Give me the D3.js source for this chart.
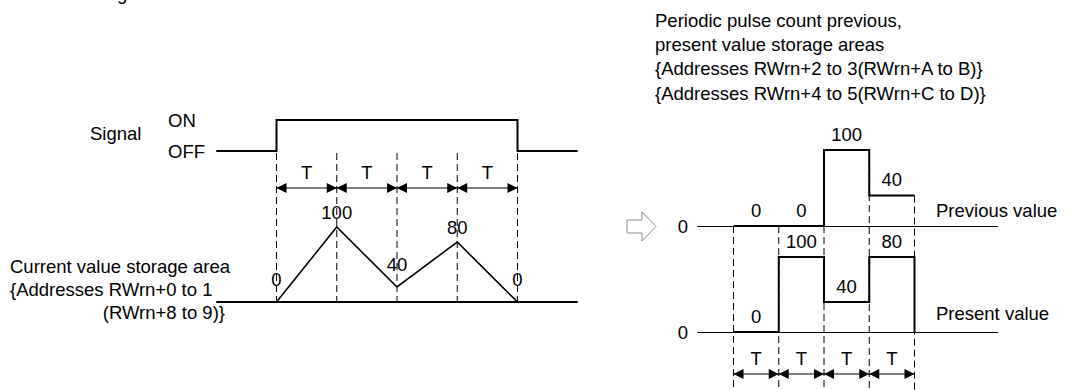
<!DOCTYPE html>
<html>
<head>
<meta charset="utf-8">
<script src="https://cdn.jsdelivr.net/npm/d3@7"></script>
<style>
  body { margin: 0; background: #fff; }
  svg { display: block; }
  text { font-family: "Liberation Sans", Arial, sans-serif; font-size: 18.5px; fill: #000; }
</style>
</head>
<body>
<svg id="chart"></svg>
<script>
// four periods of length T
const periods = ["T", "T", "T", "T"];
// signal state before, during the 4 periods, after
const signalStates = [0, 1, 1, 1, 1, 0];
// current value at each period boundary
const currentValues = [0, 100, 40, 80, 0];
// previous / present values per period
const previousValues = [0, 0, 100, 40];
const presentValues = [0, 100, 40, 80];

const headerLines = [
    "Periodic pulse count previous,",
    "present value storage areas",
    "{Addresses RWrn+2 to 3(RWrn+A to B)}",
    "{Addresses RWrn+4 to 5(RWrn+C to D)}"
];
const currentLabelLines = [
    "Current value storage area",
    "{Addresses RWrn+0 to 1"
];
const currentLabelTail = "(RWrn+8 to 9)}";

function main() {
    const width = 1071;
    const height = 390;
    const svg = prepareSvg("chart", width, height);

    drawLeft(svg);
    drawBigArrow(svg);
    drawRight(svg);

    // cut-off title at the very top
    svg.append("text").attr("x", 117).attr("y", 0).text("g");
}

function prepareSvg(id, width, height) {
    return d3.select("#" + id)
        .attr("width", width)
        .attr("height", height);
}

function addText(g, x, y, str, anchor) {
    return g.append("text")
        .attr("x", x).attr("y", y + 6.7)
        .attr("text-anchor", anchor || "start")
        .text(str);
}

function dimArrow(g, x1, x2, y) {
    const len = 10, hw = 5;
    g.append("line")
        .attr("x1", x1).attr("x2", x2).attr("y1", y).attr("y2", y)
        .attr("stroke", "#000").attr("stroke-width", 1);
    g.append("path")
        .attr("d", "M" + x1 + "," + y + "L" + (x1 + len) + "," + (y - hw) + "L" + (x1 + len) + "," + (y + hw) + "Z")
        .attr("fill", "#000");
    g.append("path")
        .attr("d", "M" + x2 + "," + y + "L" + (x2 - len) + "," + (y - hw) + "L" + (x2 - len) + "," + (y + hw) + "Z")
        .attr("fill", "#000");
}

function drawLeft(svg) {
    const g = svg.append("g").attr("class", "left");
    const x = d3.scaleLinear().domain([0, periods.length]).range([276.5, 517.5]);
    const signalY = d3.scaleLinear().domain([0, 1]).range([151, 120]);
    const curY = d3.scaleLinear().domain([0, 40, 80, 100]).range([302, 287, 242, 227]);

    // dashed boundaries
    g.selectAll(".vdash").data(d3.range(periods.length + 1)).join("line")
        .attr("x1", d => x(d)).attr("x2", d => x(d))
        .attr("y1", 153).attr("y2", 302)
        .attr("stroke", "#000").attr("stroke-width", 1)
        .attr("stroke-dasharray", "7,4");

    // signal trace
    const sigPts = [];
    signalStates.forEach((s, i) => {
        sigPts.push([x(i - 1), signalY(s)]);
        sigPts.push([x(i), signalY(s)]);
    });
    g.append("path")
        .attr("d", d3.line()(sigPts))
        .attr("fill", "none").attr("stroke", "#000").attr("stroke-width", 2);

    addText(g, 90, 133, "Signal");
    addText(g, 168, 120, "ON");
    addText(g, 168, 151, "OFF");

    // T labels + dimension arrows
    periods.forEach((p, i) => {
        addText(g, (x(i) + x(i + 1)) / 2, 172, p, "middle");
        dimArrow(g, x(i), x(i + 1), 188);
    });

    // baseline
    g.append("line")
        .attr("x1", x(-1)).attr("x2", x(periods.length + 1))
        .attr("y1", curY(0)).attr("y2", curY(0))
        .attr("stroke", "#000").attr("stroke-width", 2);

    // current value trace
    g.append("path")
        .attr("d", d3.line().x((d, i) => x(i)).y(d => curY(d))(currentValues))
        .attr("fill", "none").attr("stroke", "#000").attr("stroke-width", 1.6);

    currentValues.forEach((v, i) => {
        const prev = i > 0 ? currentValues[i - 1] : -Infinity;
        const next = i < currentValues.length - 1 ? currentValues[i + 1] : -Infinity;
        const peak = v > prev && v > next;
        addText(g, x(i), curY(v) - (peak ? 15 : 23), String(v), "middle");
    });

    currentLabelLines.forEach((t, i) => addText(g, 10, 266 + i * 23, t));
    addText(g, 225, 266 + 2 * 23, currentLabelTail, "end");
}

function drawBigArrow(svg) {
    const pts = [[627, 220], [642, 220], [642, 212], [656, 226.5], [642, 241], [642, 233], [627, 233]];
    svg.append("path")
        .attr("d", d3.line()(pts) + "Z")
        .attr("fill", "#fff").attr("stroke", "#8a8a8a").attr("stroke-width", 1);
}

function drawRight(svg) {
    const g = svg.append("g").attr("class", "right");
    const x = d3.scaleLinear().domain([0, periods.length]).range([733.5, 914.5]);
    const prevY = d3.scaleLinear().domain([0, 100]).range([226, 150]);
    const presY = d3.scaleLinear().domain([0, 40, 80]).range([332, 302, 257]).clamp(true);

    headerLines.forEach((t, i) => addText(g, 655, 20 + i * 24.3, t));

    // dashed boundaries, starting at the previous-value trace
    g.selectAll(".vdash").data(d3.range(periods.length + 1)).join("line")
        .attr("x1", d => x(d)).attr("x2", d => x(d))
        .attr("y1", d => prevY(previousValues[Math.max(0, d - 1)]))
        .attr("y2", 390)
        .attr("stroke", "#000").attr("stroke-width", 1)
        .attr("stroke-dasharray", "7,4");

    // baselines
    [prevY(0), presY(0)].forEach(y => {
        g.append("line")
            .attr("x1", x(-0.8)).attr("x2", x(5.85))
            .attr("y1", y + 0.5).attr("y2", y + 0.5)
            .attr("stroke", "#000").attr("stroke-width", 1);
        addText(g, 683, y, "0", "middle");
    });

    // previous value steps
    const prevPts = [];
    previousValues.forEach((v, i) => {
        prevPts.push([x(i), prevY(v)]);
        prevPts.push([x(i + 1), prevY(v)]);
    });
    g.append("path").attr("d", d3.line()(prevPts))
        .attr("fill", "none").attr("stroke", "#000").attr("stroke-width", 2);

    // present value steps
    const presPts = [];
    presentValues.forEach((v, i) => {
        presPts.push([x(i), presY(v)]);
        presPts.push([x(i + 1), presY(v)]);
    });
    presPts.push([x(periods.length), presY(0)]);
    g.append("path").attr("d", d3.line()(presPts))
        .attr("fill", "none").attr("stroke", "#000").attr("stroke-width", 2);

    previousValues.forEach((v, i) => addText(g, (x(i) + x(i + 1)) / 2, prevY(v) - 16, String(v), "middle"));
    presentValues.forEach((v, i) => addText(g, (x(i) + x(i + 1)) / 2, presY(v) - 16, String(v), "middle"));

    addText(g, 936, 210, "Previous value");
    addText(g, 936, 313, "Present value");

    periods.forEach((p, i) => {
        addText(g, (x(i) + x(i + 1)) / 2, 358, p, "middle");
        dimArrow(g, x(i), x(i + 1), 374);
    });
}

main();
</script>
</body>
</html>
